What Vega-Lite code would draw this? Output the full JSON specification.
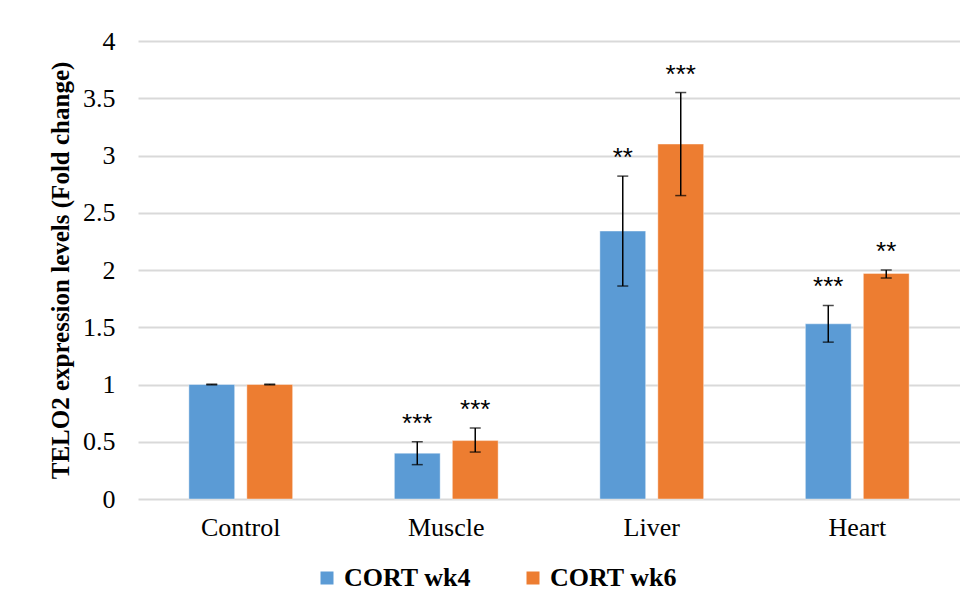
{
  "$schema": "https://vega.github.io/schema/vega-lite/v6.json",
  "width": 822,
  "height": 458,
  "autosize": {"type": "none"},
  "padding": {"left": 138, "top": 41, "right": 0, "bottom": 117},
  "background": "white",
  "config": {
    "view": {"stroke": null},
    "font": "Liberation Serif"
  },
  "data": {
    "values": [
      {"tissue": "Control", "group": "CORT wk4", "value": 1.0, "lower": 0.997, "upper": 1.003, "sig": ""},
      {"tissue": "Control", "group": "CORT wk6", "value": 1.0, "lower": 0.997, "upper": 1.003, "sig": ""},
      {"tissue": "Muscle", "group": "CORT wk4", "value": 0.40, "lower": 0.30, "upper": 0.50, "sig": "***"},
      {"tissue": "Muscle", "group": "CORT wk6", "value": 0.51, "lower": 0.41, "upper": 0.62, "sig": "***"},
      {"tissue": "Liver", "group": "CORT wk4", "value": 2.34, "lower": 1.86, "upper": 2.82, "sig": "**"},
      {"tissue": "Liver", "group": "CORT wk6", "value": 3.10, "lower": 2.65, "upper": 3.55, "sig": "***"},
      {"tissue": "Heart", "group": "CORT wk4", "value": 1.53, "lower": 1.37, "upper": 1.69, "sig": "***"},
      {"tissue": "Heart", "group": "CORT wk6", "value": 1.97, "lower": 1.93, "upper": 2.00, "sig": "**"}
    ]
  },
  "encoding": {
    "x": {
      "field": "tissue",
      "type": "nominal",
      "sort": ["Control", "Muscle", "Liver", "Heart"],
      "scale": {"paddingInner": 0.495, "paddingOuter": 0.2475},
      "axis": {
        "title": null,
        "labelAngle": 0,
        "labelFont": "Liberation Serif",
        "labelFontSize": 26,
        "labelColor": "#000000",
        "labelPadding": 15,
        "ticks": false,
        "domain": false
      }
    },
    "xOffset": {
      "field": "group",
      "type": "nominal",
      "scale": {"paddingInner": 0.21, "paddingOuter": 0}
    }
  },
  "layer": [
    {
      "mark": {"type": "bar", "stroke": "white", "strokeWidth": 1, "strokeOpacity": 0.4},
      "encoding": {
        "y": {
          "field": "value",
          "type": "quantitative",
          "scale": {"domain": [0, 4]},
          "axis": {
            "values": [0, 0.5, 1, 1.5, 2, 2.5, 3, 3.5, 4],
            "format": "~g",
            "title": "TELO2 expression levels (Fold change)",
            "titleFont": "Liberation Serif",
            "titleFontSize": 25,
            "titleFontWeight": "bold",
            "titleColor": "#000000",
            "titlePadding": 9,
            "labelFont": "Liberation Serif",
            "labelFontSize": 26,
            "labelColor": "#000000",
            "labelPadding": 23,
            "ticks": false,
            "domain": false,
            "grid": true,
            "gridColor": "#D9D9D9",
            "gridWidth": 2
          }
        },
        "color": {
          "field": "group",
          "type": "nominal",
          "scale": {"domain": ["CORT wk4", "CORT wk6"], "range": ["#5B9BD5", "#ED7D31"]},
          "legend": {
            "title": null,
            "orient": "none",
            "legendX": 176,
            "legendY": 524,
            "direction": "horizontal",
            "labelFont": "Liberation Serif",
            "labelFontSize": 26,
            "labelFontWeight": "bold",
            "labelColor": "#000000",
            "symbolType": "square",
            "symbolSize": 169,
            "symbolStrokeWidth": 0,
            "columnPadding": 49,
            "labelOffset": 4
          }
        }
      }
    },
    {
      "mark": {"type": "rule", "color": "#000000", "strokeWidth": 1.5},
      "encoding": {
        "y": {"field": "lower", "type": "quantitative"},
        "y2": {"field": "upper"}
      }
    },
    {
      "mark": {"type": "tick", "color": "#000000", "thickness": 1.5, "size": 11, "orient": "horizontal"},
      "encoding": {
        "y": {"field": "upper", "type": "quantitative"}
      }
    },
    {
      "mark": {"type": "tick", "color": "#000000", "thickness": 1.5, "size": 11, "orient": "horizontal"},
      "encoding": {
        "y": {"field": "lower", "type": "quantitative"}
      }
    },
    {
      "mark": {"type": "text", "font": "Liberation Sans", "fontSize": 26, "color": "#000000", "baseline": "middle", "dy": -18, "letterSpacing": 2},
      "encoding": {
        "y": {"field": "upper", "type": "quantitative"},
        "text": {"field": "sig"}
      }
    }
  ]
}
